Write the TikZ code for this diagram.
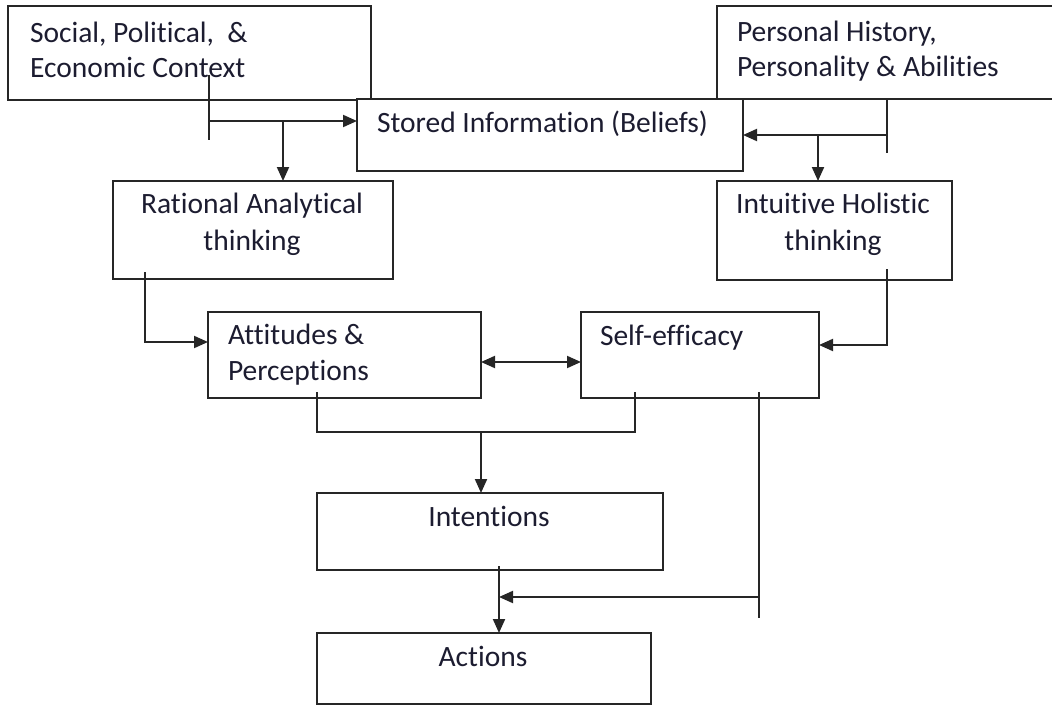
\documentclass[tikz,border=0pt]{standalone}
\usepackage{fontspec}
\setmainfont{Carlito}[Ligatures=NoCommon]
\usetikzlibrary{arrows.meta}
\definecolor{txtc}{RGB}{28,28,48}
\begin{document}
\begin{tikzpicture}[x=1pt,y=-1pt,
  box/.style={draw=black!85,line width=2pt,fill=white,inner sep=0pt,outer sep=0pt},
  txt/.style={inner sep=0pt,outer sep=0pt,text=txtc,font=\fontsize{29.5}{37}\selectfont},
  ln/.style={draw=black!85,line width=2pt},
  arr/.style={ln,-{Triangle[length=14pt,width=12pt]}},
  arrb/.style={ln,{Triangle[length=14pt,width=12pt]}-{Triangle[length=14pt,width=12pt]}}]
\useasboundingbox (0,0) rectangle (1052,706);
% boxes
\node[box,minimum width=363pt,minimum height=94pt] (social) at (189.5,53) {};
\node[box,minimum width=343pt,minimum height=93pt] (personal) at (888.5,52.5) {};
\node[box,minimum width=386pt,minimum height=72pt] (stored) at (550,135) {};
\node[box,minimum width=280pt,minimum height=98pt] (rational) at (253,230) {};
\node[box,minimum width=235pt,minimum height=99pt] (intuitive) at (834.5,230.5) {};
\node[box,minimum width=273pt,minimum height=86pt] (attitudes) at (344.5,355) {};
\node[box,minimum width=238pt,minimum height=86pt] (selfeff) at (700,355) {};
\node[box,minimum width=346pt,minimum height=77pt] (intentions) at (490,531.5) {};
\node[box,minimum width=334pt,minimum height=71pt] (actions) at (484,668.5) {};
% texts
\node[txt,anchor=base west] (tsoc1) at (30,43) {Social, Political,\ \ \&};
\node[txt,anchor=base west] (tsoc2) at (30,78) {Economic Context};
\node[txt,anchor=base west] (tper1) at (737,42) {Personal History,};
\node[txt,anchor=base west] (tper2) at (737,77) {Personality \& Abilities};
\node[txt,anchor=base west] (tsto) at (377,132) {Stored Information (Beliefs)};
\node[txt,anchor=base] (trat1) at (252,213) {Rational Analytical};
\node[txt,anchor=base] (trat2) at (252,250) {thinking};
\node[txt,anchor=base] (tint1) at (833,213) {Intuitive Holistic};
\node[txt,anchor=base] (tint2) at (833,250) {thinking};
\node[txt,anchor=base west] (tatt1) at (228,344) {Attitudes \&};
\node[txt,anchor=base west] (tatt2) at (228,380) {Perceptions};
\node[txt,anchor=base west] (tself) at (600,345) {Self-efficacy};
\node[txt,anchor=base] (tinten) at (489,526) {Intentions};
\node[txt,anchor=base] (tact) at (483,666) {Actions};
% social connectors
\coordinate (sTop) at (209,75);
\coordinate (sBot) at (209,140);
\coordinate (sJ) at (209,121);
\coordinate (sJ2) at (283,121);
\draw[ln] (sTop) -- (sBot);
\draw[arr] (sJ) -- (sJ -| stored.west);
\draw[arr] (sJ2) -- (sJ2 |- rational.north);
% personal connectors
\coordinate (pBot) at (887,153);
\coordinate (pJ) at (887,135);
\coordinate (pJ2) at (818,135);
\draw[ln] (pBot |- personal.south) -- (pBot);
\draw[arr] (pJ) -- (pJ -| stored.east);
\draw[arr] (pJ2) -- (pJ2 |- intuitive.north);
% rational -> attitudes
\coordinate (rA) at (145,272);
\coordinate (rB) at (145,342);
\draw[arr] (rA) -- (rB) -- (rB -| attitudes.west);
% intuitive -> self-efficacy
\coordinate (iA) at (887,269);
\coordinate (iB) at (887,345);
\draw[arr] (iA) -- (iB) -- (iB -| selfeff.east);
% attitudes <-> self-efficacy
\coordinate (dA) at (530,362);
\draw[arrb] (dA -| attitudes.east) -- (dA -| selfeff.west);
% to intentions
\coordinate (aL) at (317,392);
\coordinate (aLb) at (317,432);
\coordinate (aR) at (635,392);
\coordinate (aRb) at (635,432);
\coordinate (aM) at (481,432);
\draw[ln] (aL) -- (aLb) -- (aRb) -- (aR);
\draw[arr] (aM) -- (aM |- intentions.north);
% long right line
\coordinate (eTop) at (759,392);
\coordinate (eBot) at (759,618);
\coordinate (eJ) at (759,597);
\coordinate (iTop) at (499,566);
\draw[ln] (eTop) -- (eBot);
\draw[arr] (eJ) -- (eJ -| iTop);
% intentions -> actions
\draw[arr] (iTop) -- (iTop |- actions.north);
\end{tikzpicture}
\end{document}
